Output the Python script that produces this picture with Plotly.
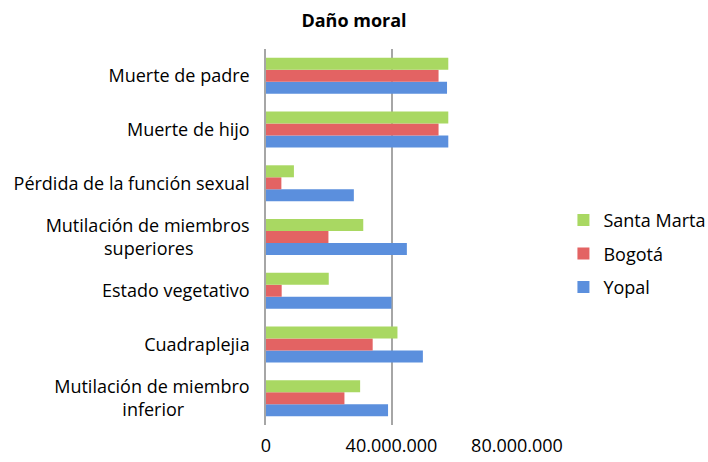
import plotly.graph_objects as go

NB = "\u00a0"
categories = [
    "Mutilación de miembro<br>inferior" + NB * 14,
    "Cuadraplejia",
    "Estado vegetativo",
    "Mutilación de miembros<br>superiores" + NB * 12,
    "Pérdida de la función sexual",
    "Muerte de hijo",
    "Muerte de padre",
]
yopal = [38900000, 50000000, 40000000, 44900000, 28000000, 58100000, 57700000]
bogota = [25000000, 34000000, 5000000, 19900000, 4900000, 55000000, 55000000]
santa_marta = [30000000, 41900000, 20000000, 31000000, 8900000, 58100000, 58100000]
tick_vals = [0, 40000000, 80000000]
tick_text = ["0", "40.000.000", "80.000.000"]

font_family = "'Open Sans', sans-serif"

fig = go.Figure()
fig.add_trace(go.Bar(y=categories, x=yopal, name="Yopal", orientation="h", legendgroup="a",
                     legendrank=3, marker=dict(color="#5b8fdd", line=dict(width=0))))
fig.add_trace(go.Bar(y=categories, x=bogota, name="Bogotá", orientation="h", legendgroup="b",
                     legendrank=2, marker=dict(color="#e36363", line=dict(width=0))))
fig.add_trace(go.Bar(y=categories, x=santa_marta, name="Santa Marta", orientation="h", legendgroup="c",
                     legendrank=1, marker=dict(color="#a9d862", line=dict(width=0))))

fig.update_layout(
    width=708, height=462,
    margin=dict(l=266, r=191, t=49, b=37, autoexpand=False),
    paper_bgcolor="white", plot_bgcolor="white",
    barmode="group", bargap=0.33, bargroupgap=0,
    title=dict(text="<b>Daño moral</b>", x=0.5, xanchor="center", y=0.955, yanchor="middle",
               font=dict(family=font_family, size=18, color="black")),
    font=dict(family=font_family, size=18, color="black"),
    legend=dict(x=1.185, xanchor="left", y=0.455, yanchor="middle", traceorder="grouped",
                font=dict(size=18), itemwidth=30, tracegroupgap=7),
    showlegend=True,
)
fig.update_xaxes(range=[0, 80000000], tickvals=tick_vals, ticktext=tick_text,
                 showgrid=True, gridcolor="#a6a6a6", gridwidth=1.5, automargin=False,
                 zeroline=False, showline=False, ticks="", ticklabelstandoff=8)
fig.update_yaxes(showline=True, linecolor="#a6a6a6", linewidth=1.5, ticks="", automargin=False,
                 showgrid=False, ticklabelstandoff=11)

fig.write_html("out.html", config={"displayModeBar": False},
               post_script="document.body.style.margin='0';")
